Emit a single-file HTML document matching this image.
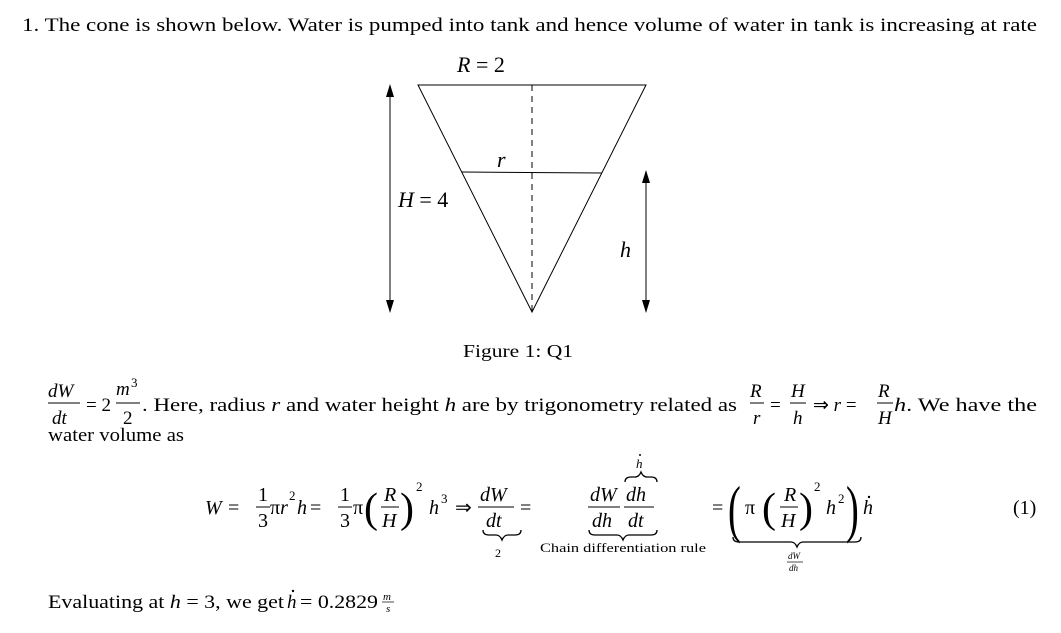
<!DOCTYPE html>
<html><head><meta charset="utf-8"><style>
html,body{margin:0;padding:0;background:#fff;}
svg{display:block;}
text{font-family:"Liberation Serif",serif;fill:#000;}
.i{font-style:italic;}
</style></head><body>
<svg width="1061" height="633" viewBox="0 0 1061 633" xmlns="http://www.w3.org/2000/svg" font-size="19">
<text x="22" y="31" textLength="1015" lengthAdjust="spacingAndGlyphs">1. The cone is shown below. Water is pumped into tank and hence volume of water in tank is increasing at rate</text>

<!-- figure -->
<text x="457" y="72" font-size="22"><tspan class="i">R</tspan> = 2</text>
<polygon points="418,85 646,85 532,312" fill="none" stroke="#000" stroke-width="1"/>
<line x1="532" y1="85" x2="532" y2="312" stroke="#000" stroke-width="1" stroke-dasharray="6,5"/>
<line x1="462" y1="172" x2="602" y2="173" stroke="#000" stroke-width="1"/>
<text x="497" y="167" font-size="22" class="i">r</text>
<text x="398" y="207" font-size="22"><tspan class="i">H</tspan> = 4</text>
<text x="620" y="257" font-size="22" class="i">h</text>
<line x1="390" y1="95" x2="390" y2="302" stroke="#000" stroke-width="1"/>
<polygon points="390,84 386,97 394,97" fill="#000"/>
<polygon points="390,313 386,300 394,300" fill="#000"/>
<line x1="646" y1="180" x2="646" y2="302" stroke="#000" stroke-width="1"/>
<polygon points="646,170 642,183 650,183" fill="#000"/>
<polygon points="646,313 642,300 650,300" fill="#000"/>
<text x="463" y="357" font-size="18" textLength="110" lengthAdjust="spacingAndGlyphs">Figure 1: Q1</text>

<!-- line 2 -->
<text x="48" y="397" class="i">dW</text>
<line x1="48" y1="403" x2="80" y2="403" stroke="#000"/>
<text x="52" y="424" class="i">dt</text>
<text x="86" y="411">= 2</text>
<text x="116" y="395" class="i">m</text><text x="131" y="387" font-size="13">3</text>
<line x1="116" y1="403" x2="140" y2="403" stroke="#000"/>
<text x="123" y="424">2</text>
<text x="142" y="411" textLength="595" lengthAdjust="spacingAndGlyphs">. Here, radius <tspan class="i">r</tspan> and water height <tspan class="i">h</tspan> are by trigonometry related as</text>
<text x="750" y="397" class="i">R</text>
<line x1="750" y1="403" x2="764" y2="403" stroke="#000"/>
<text x="753" y="424" class="i">r</text>
<text x="770" y="411">=</text>
<text x="791" y="397" class="i">H</text>
<line x1="790" y1="403" x2="806" y2="403" stroke="#000"/>
<text x="793" y="424" class="i">h</text>
<text x="813" y="411">⇒ <tspan class="i">r</tspan> =</text>
<text x="878" y="397" class="i">R</text>
<line x1="877" y1="403" x2="893" y2="403" stroke="#000"/>
<text x="878" y="424" class="i">H</text>
<text x="894" y="411" textLength="143" lengthAdjust="spacingAndGlyphs"><tspan class="i">h</tspan>. We have the</text>
<text x="48" y="441" textLength="136" lengthAdjust="spacingAndGlyphs">water volume as</text>

<!-- equation -->
<g font-size="20">
<text x="205" y="514" class="i">W</text><text x="228" y="514">=</text>
<text x="258" y="501">1</text><line x1="256" y1="507" x2="270" y2="507" stroke="#000"/><text x="258" y="527">3</text>
<text x="270" y="514">π<tspan class="i">r</tspan></text><text x="289" y="500" font-size="13">2</text><text x="297" y="514" class="i">h</text><text x="310" y="514">=</text>
<text x="340" y="501">1</text><line x1="338" y1="507" x2="352" y2="507" stroke="#000"/><text x="340" y="527">3</text>
<text x="353" y="514">π</text>
<text x="364" y="522" font-size="42">(</text>
<text x="384" y="501" class="i">R</text><line x1="381" y1="507" x2="399" y2="507" stroke="#000"/><text x="382" y="527" class="i">H</text>
<text x="400" y="522" font-size="42">)</text>
<text x="416" y="491" font-size="13">2</text>
<text x="429" y="514" class="i">h</text><text x="441" y="503" font-size="13">3</text>
<text x="455" y="514">⇒</text>
<text x="480" y="501" class="i">dW</text><line x1="478" y1="507" x2="514" y2="507" stroke="#000"/><text x="486" y="527" class="i">dt</text>
<text x="520" y="514">=</text>
<path d="M483,530 q0,5 6,5 h7 q4,0 6,5 q2,-5 6,-5 h7 q6,0 6,-5" fill="none" stroke="#000" stroke-width="1.3"/>
<text x="495" y="557" font-size="12">2</text>

<text x="590" y="501" class="i">dW</text><line x1="588" y1="507" x2="620" y2="507" stroke="#000"/><text x="592" y="527" class="i">dh</text>
<text x="626" y="501" class="i">dh</text><line x1="624" y1="507" x2="654" y2="507" stroke="#000"/><text x="628" y="527" class="i">dt</text>
<path d="M625,482 q0,-5 6,-5 h4 q4,0 6,-5 q2,5 6,5 h4 q6,0 6,5" fill="none" stroke="#000" stroke-width="1.3"/>
<text x="636" y="468" font-size="13" class="i">h</text><circle cx="640" cy="455" r="1" fill="#000"/>
<path d="M589,530 q0,5 6,5 h22 q4,0 6,5 q2,-5 6,-5 h22 q6,0 6,-5" fill="none" stroke="#000" stroke-width="1.3"/>
<text x="540" y="552" font-size="13" textLength="166" lengthAdjust="spacingAndGlyphs">Chain differentiation rule</text>

<text x="712" y="514">=</text>
<text x="728" y="530" font-size="64" transform="translate(728 0) scale(0.6 1) translate(-728 0)">(</text>
<text x="745" y="514">π</text>
<text x="762" y="522" font-size="42">(</text>
<text x="784" y="501" class="i">R</text><line x1="780" y1="507" x2="798" y2="507" stroke="#000"/><text x="781" y="527" class="i">H</text>
<text x="799" y="522" font-size="42">)</text>
<text x="814" y="491" font-size="13">2</text>
<text x="826" y="514" class="i">h</text><text x="838" y="503" font-size="13">2</text>
<text x="846" y="530" font-size="64" transform="translate(846 0) scale(0.6 1) translate(-846 0)">)</text>
<text x="863" y="514" class="i">h</text><circle cx="869" cy="497" r="1.2" fill="#000"/>
<path d="M733,537 q0,5 6,5 h52 q4,0 6,5 q2,-5 6,-5 h52 q6,0 6,-5" fill="none" stroke="#000" stroke-width="1.3"/>
<text x="788" y="559" font-size="9" class="i">dW</text><line x1="787" y1="562" x2="803" y2="562" stroke="#000" stroke-width="0.7"/><text x="789" y="571" font-size="9" class="i">dh</text>
<text x="1013" y="514">(1)</text>
</g>

<text x="48" y="608" textLength="236" lengthAdjust="spacingAndGlyphs">Evaluating at <tspan class="i">h</tspan> = 3, we get</text>
<text x="287" y="608" class="i">h</text><circle cx="293" cy="591" r="1.2" fill="#000"/>
<text x="300" y="608" textLength="78" lengthAdjust="spacingAndGlyphs">= 0.2829</text>
<text x="383" y="600" font-size="11" class="i">m</text><line x1="382" y1="602" x2="394" y2="602" stroke="#000" stroke-width="0.7"/><text x="386" y="612" font-size="11" class="i">s</text>
</svg>
</body></html>
